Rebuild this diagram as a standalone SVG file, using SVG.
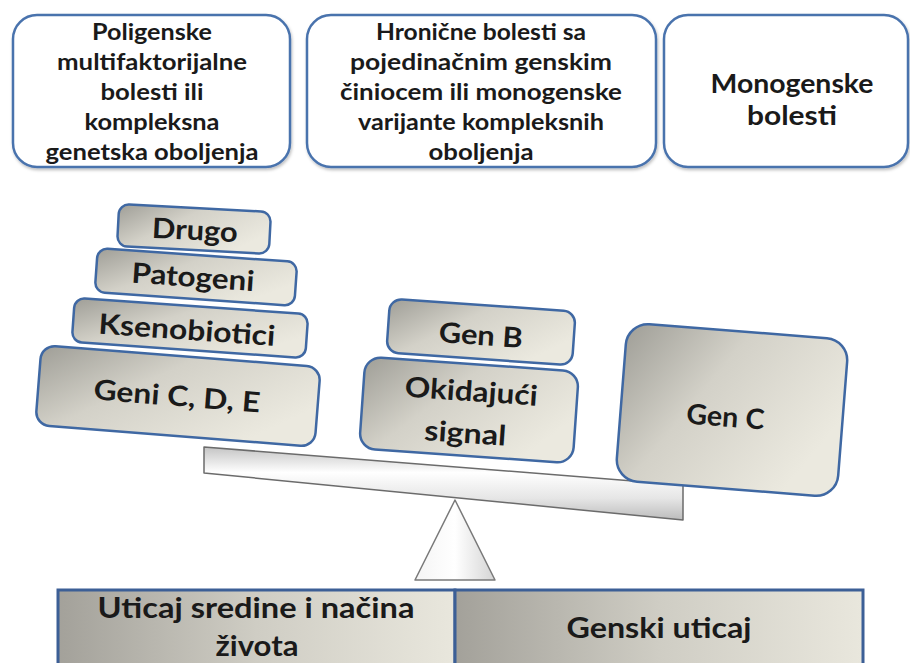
<svg xmlns="http://www.w3.org/2000/svg" width="910" height="663" viewBox="0 0 910 663">
  <defs>
    <linearGradient id="blockGrad" x1="0" y1="0" x2="1" y2="0.5">
      <stop offset="0" stop-color="#9f9e97"/>
      <stop offset="0.45" stop-color="#d3d1c8"/>
      <stop offset="1" stop-color="#ebe9df"/>
    </linearGradient>
    <linearGradient id="bandGrad" x1="0" y1="0" x2="1" y2="0">
      <stop offset="0" stop-color="#a3a19a"/>
      <stop offset="0.5" stop-color="#cfcdc4"/>
      <stop offset="1" stop-color="#e9e7dd"/>
    </linearGradient>
    <linearGradient id="beamGrad" x1="0" y1="0" x2="0" y2="1">
      <stop offset="0" stop-color="#c4c4c4"/>
      <stop offset="0.35" stop-color="#ffffff"/>
      <stop offset="0.7" stop-color="#e6e6e6"/>
      <stop offset="1" stop-color="#bcbcbc"/>
    </linearGradient>
    <linearGradient id="triGrad" x1="0" y1="0" x2="1" y2="0">
      <stop offset="0" stop-color="#f4f4f4"/>
      <stop offset="0.5" stop-color="#ffffff"/>
      <stop offset="1" stop-color="#d4d4d4"/>
    </linearGradient>
    <filter id="shadow" x="-5%" y="-5%" width="110%" height="115%">
      <feDropShadow dx="1" dy="2" stdDeviation="1.5" flood-color="#000" flood-opacity="0.25"/>
    </filter>
  </defs>
  <style>
    .top { fill: #ffffff; stroke: #4a73ad; stroke-width: 2.5; }
    .blk { fill: url(#blockGrad); stroke: #3f68a3; stroke-width: 2.5; }
    .band { fill: url(#bandGrad); stroke: #3c5f96; stroke-width: 3; }
    .t { font-family: Lato, "Liberation Sans", sans-serif; font-weight: 700; fill: #1a1a1a; text-anchor: middle; }
    .t1 { font-size: 22px; }
    .t3 { font-size: 27px; }
    .tb { font-size: 28px; }
  </style>

  <!-- top category boxes -->
  <g id="box-poligenske">
    <rect class="top" x="13" y="15" width="277" height="152" rx="24" filter="url(#shadow)"/>
    <text class="t t1" x="152" y="40" textLength="120" lengthAdjust="spacingAndGlyphs">Poligenske</text>
    <text class="t t1" x="152" y="70" textLength="190" lengthAdjust="spacingAndGlyphs">multifaktorijalne</text>
    <text class="t t1" x="152" y="100" textLength="103" lengthAdjust="spacingAndGlyphs">bolesti ili</text>
    <text class="t t1" x="152" y="130" textLength="135" lengthAdjust="spacingAndGlyphs">kompleksna</text>
    <text class="t t1" x="152" y="160" textLength="213" lengthAdjust="spacingAndGlyphs">genetska oboljenja</text>
  </g>
  <g id="box-hronicne">
    <rect class="top" x="307" y="15" width="349" height="152" rx="24" filter="url(#shadow)"/>
    <text class="t t1" x="481" y="40" textLength="210" lengthAdjust="spacingAndGlyphs">Hronične bolesti sa</text>
    <text class="t t1" x="481" y="70" textLength="262" lengthAdjust="spacingAndGlyphs">pojedinačnim genskim</text>
    <text class="t t1" x="481" y="100" textLength="282" lengthAdjust="spacingAndGlyphs">činiocem ili monogenske</text>
    <text class="t t1" x="481" y="130" textLength="246" lengthAdjust="spacingAndGlyphs">varijante kompleksnih</text>
    <text class="t t1" x="481" y="160" textLength="105" lengthAdjust="spacingAndGlyphs">oboljenja</text>
  </g>
  <g id="box-monogenske">
    <rect class="top" x="664" y="15" width="244" height="152" rx="24" filter="url(#shadow)"/>
    <text class="t t3" x="792" y="93" textLength="163" lengthAdjust="spacingAndGlyphs">Monogenske</text>
    <text class="t t3" x="792" y="125" textLength="90" lengthAdjust="spacingAndGlyphs">bolesti</text>
  </g>

  <!-- balance -->
  <g id="fulcrum">
    <polygon points="455,500 415,580 495,580" fill="url(#triGrad)" stroke="#7a7a7a" stroke-width="1.5" stroke-linejoin="round"/>
  </g>
  <g id="beam">
    <polygon points="204,447 683,485 683,520 204,473" fill="url(#beamGrad)" stroke="#6b6b6b" stroke-width="1.5" stroke-linejoin="round"/>
  </g>

  <!-- left stack -->
  <g id="blk-drugo" transform="translate(194,229) rotate(3)">
    <rect class="blk" x="-76" y="-21" width="152" height="42" rx="10"/>
    <text class="t tb" x="1" y="11" textLength="86" lengthAdjust="spacingAndGlyphs">Drugo</text>
  </g>
  <g id="blk-patogeni" transform="translate(196,277) rotate(4)">
    <rect class="blk" x="-100" y="-22" width="200" height="44" rx="10"/>
    <text class="t tb" x="-3" y="10" textLength="123" lengthAdjust="spacingAndGlyphs">Patogeni</text>
  </g>
  <g id="blk-ksenobiotici" transform="translate(190,328) rotate(4)">
    <rect class="blk" x="-117" y="-22" width="234" height="44" rx="10"/>
    <text class="t tb" x="-3" y="12" textLength="177" lengthAdjust="spacingAndGlyphs">Ksenobiotici</text>
  </g>
  <g id="blk-geni-cde" transform="translate(178,396) rotate(4.5)">
    <rect class="blk" x="-140" y="-40" width="280" height="80" rx="14"/>
    <text class="t tb" x="-1" y="10" textLength="167" lengthAdjust="spacingAndGlyphs">Geni C, D, E</text>
  </g>

  <!-- middle stack -->
  <g id="blk-gen-b" transform="translate(481,332) rotate(4)">
    <rect class="blk" x="-93" y="-27" width="186" height="54" rx="12"/>
    <text class="t tb" x="0" y="13" textLength="84" lengthAdjust="spacingAndGlyphs">Gen B</text>
  </g>
  <g id="blk-okidajuci" transform="translate(469,410) rotate(4)">
    <rect class="blk" x="-107" y="-46" width="214" height="92" rx="16"/>
    <text class="t tb" x="1" y="-9" textLength="133" lengthAdjust="spacingAndGlyphs">Okidajući</text>
    <text class="t tb" x="-2" y="33" textLength="82" lengthAdjust="spacingAndGlyphs">signal</text>
  </g>

  <!-- right block -->
  <g id="blk-gen-c" transform="translate(732,410) rotate(4.5)">
    <rect class="blk" x="-111" y="-79" width="222" height="158" rx="22"/>
    <text class="t tb" x="-6" y="17" textLength="78" lengthAdjust="spacingAndGlyphs">Gen C</text>
  </g>

  <!-- bottom band -->
  <g id="band-sredina">
    <rect class="band" x="58" y="590" width="397" height="80"/>
    <text class="t tb" x="256" y="618" textLength="317" lengthAdjust="spacingAndGlyphs">Uticaj sredine i načina</text>
    <text class="t tb" x="257" y="656" textLength="83" lengthAdjust="spacingAndGlyphs">života</text>
  </g>
  <g id="band-geni">
    <rect class="band" x="455" y="590" width="408" height="80"/>
    <text class="t tb" x="659" y="638" textLength="185" lengthAdjust="spacingAndGlyphs">Genski uticaj</text>
  </g>

  <g id="connectors"></g>
</svg>
